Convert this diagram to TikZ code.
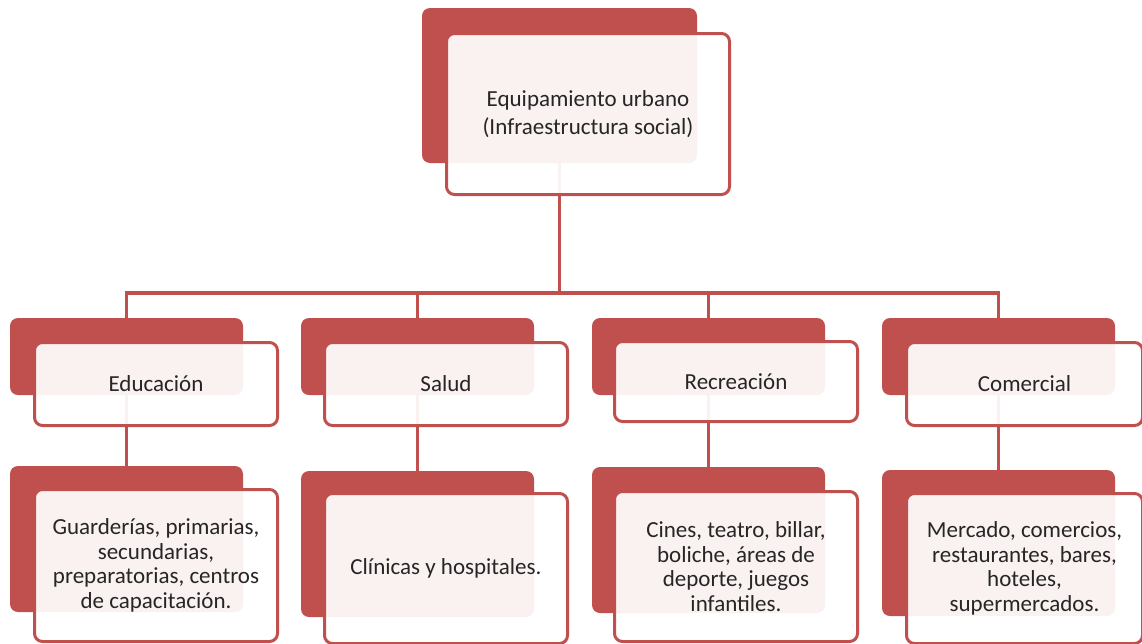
\documentclass[tikz,border=0pt]{standalone}
\usepackage{fontspec}
\setmainfont{Carlito}
\usepackage{tikz}
\usetikzlibrary{positioning}
\definecolor{boxred}{RGB}{192,80,77}
\tikzset{back/.style={fill=boxred, rounded corners=8pt, inner sep=0pt, outer sep=0pt, anchor=north west},
  front/.style={draw=boxred, line width=3pt, fill=white, fill opacity=0.92, text opacity=1, text=black!85, rounded corners=8pt, inner sep=0pt, anchor=north west, align=center, font=\fontsize{23}{24.5}\selectfont},
  link/.style={draw=boxred, line width=3.5pt}}

\begin{document}
\begin{tikzpicture}[x=1pt, y=-1pt]
\useasboundingbox (0,0) rectangle (1142,643);
\clip (0,0) rectangle (1142,643);
\node[back, minimum width=275, minimum height=155] (equipb) at (422,8) {};
\node[back, minimum width=233, minimum height=77] (edub) at (10,318) {};
\node[back, minimum width=233, minimum height=77] (salb) at (301,318) {};
\node[back, minimum width=233, minimum height=77] (recb) at (592,318) {};
\node[back, minimum width=233, minimum height=77] (comb) at (882,318) {};
\node[back, minimum width=233, minimum height=146] (edulb) at (10,466) {};
\node[back, minimum width=233, minimum height=146] (sallb) at (301,471) {};
\node[back, minimum width=233, minimum height=146] (reclb) at (592,467) {};
\node[back, minimum width=233, minimum height=146] (comlb) at (882,470) {};
\coordinate (bus) at (559.5,293);
\draw[link] (equipb.south) -- (bus);
\draw[link] (bus) -| (edub.north);
\draw[link] (bus) -| (salb.north);
\draw[link] (bus) -| (recb.north);
\draw[link] (bus) -| (comb.north);
\draw[link] (edub.south) -- (edulb.north);
\draw[link] (salb.south) -- (sallb.north);
\draw[link] (recb.south) -- (reclb.north);
\draw[link] (comb.south) -- (comlb.north);
\node[front, minimum width=283, minimum height=161, font=\fontsize{23}{28}\selectfont] (equip) at (445,32) {Equipamiento urbano\\(Infraestructura social)};
\node[front, minimum width=243, minimum height=83] (edu) at (33,341) {Educación};
\node[front, minimum width=243, minimum height=83] (sal) at (323,341) {Salud};
\node[front, minimum width=243, minimum height=80] (rec) at (613,340) {Recreación};
\node[front, minimum width=236, minimum height=83] (com) at (905,341) {Comercial};
\node[front, minimum width=243, minimum height=152] (edul) at (33,488) {Guarderías, primarias,\\secundarias,\\preparatorias, centros\\de capacitación.};
\node[front, minimum width=243, minimum height=150] (sall) at (323,492) {Clínicas y hospitales.};
\node[front, minimum width=243, minimum height=150] (recl) at (613,490) {Cines, teatro, billar,\\boliche, áreas de\\deporte, juegos\\infantiles.};
\node[front, minimum width=236, minimum height=150] (coml) at (905,492) {Mercado, comercios,\\restaurantes, bares,\\hoteles,\\supermercados.};
\end{tikzpicture}
\end{document}
